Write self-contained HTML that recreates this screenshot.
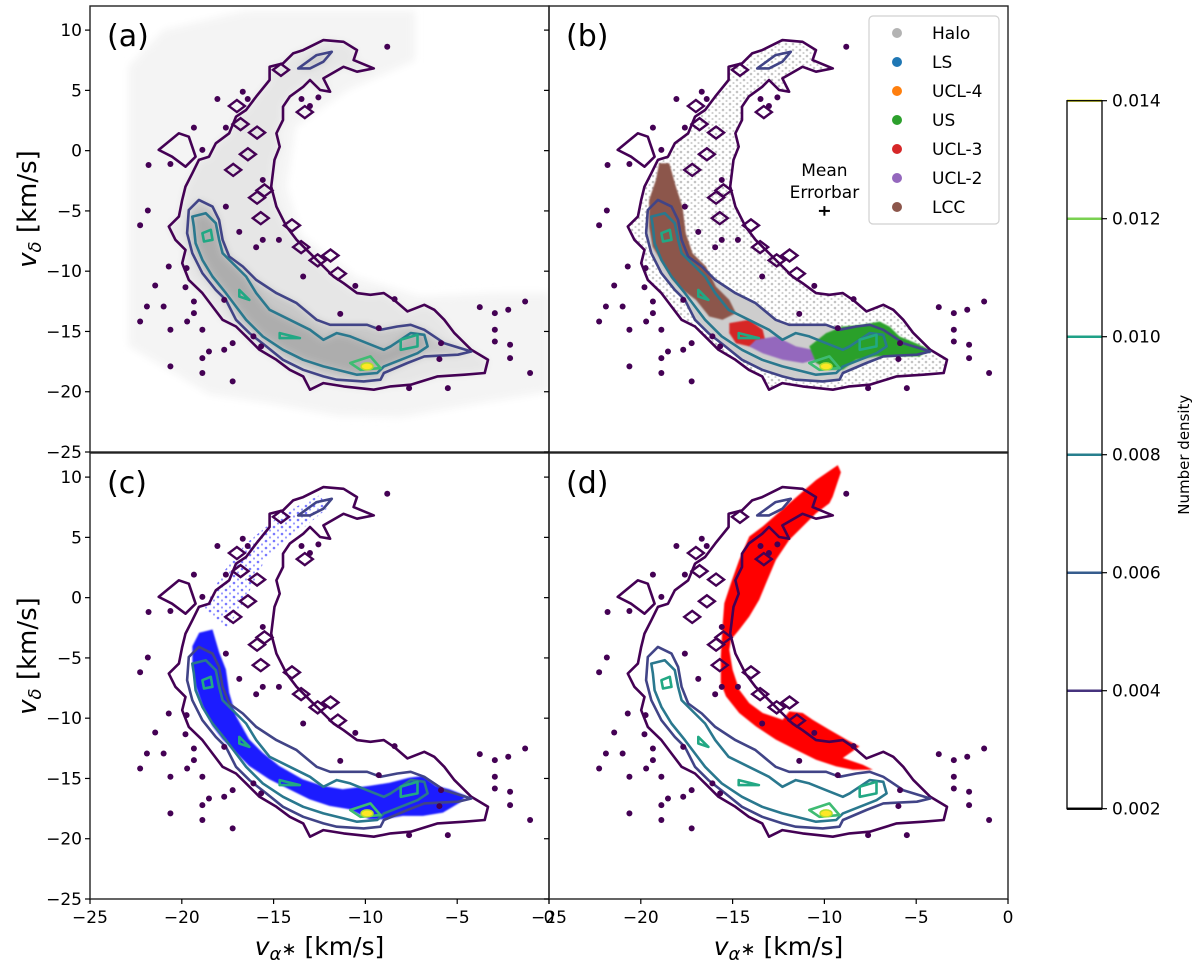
<!DOCTYPE html>
<html><head><meta charset="utf-8"><style>
body{margin:0;background:#fff;}
svg text{font-family:"DejaVu Sans","Liberation Sans",sans-serif;}
</style></head><body>
<svg id="fig" width="1200" height="965" viewBox="0 0 1200 965" xmlns="http://www.w3.org/2000/svg">
<defs>
<filter id="blur" x="-10%" y="-10%" width="120%" height="120%"><feGaussianBlur stdDeviation="4"/></filter>
<filter id="blur2"><feGaussianBlur stdDeviation="0.8"/></filter>
<pattern id="halodots" width="7" height="6" patternUnits="userSpaceOnUse"><circle cx="2" cy="2" r="1.3" fill="#c4c4c4"/><circle cx="5.5" cy="5" r="1.1" fill="#d0d0d0"/></pattern>
<pattern id="bluedots" width="8" height="7" patternUnits="userSpaceOnUse"><circle cx="2" cy="2" r="1.3" fill="#7a7aff"/><circle cx="6" cy="5.5" r="1.1" fill="#9a9aff"/></pattern>
</defs>
<g id="root"></g>
</svg>
<script>
// ---- data (velocities in km/s) ----
const xTicks = [-25, -20, -15, -10, -5, 0];
const yTicks = [10, 5, 0, -5, -10, -15, -20, -25];
const cbTicks = [0.002, 0.004, 0.006, 0.008, 0.010, 0.012, 0.014];
const cbLevelColors = ['#1a1a1a', '#46337e', '#365c8d', '#277f8e', '#1fa187', '#7ad151', '#e8e84a'];
const contourOuter = [[-13.39,8.34],[-12.29,9.17],[-11.19,9.03],[-10.46,8.34],[-10.64,7.51],[-9.54,6.82],[-10.46,6.55],[-11.19,6.96],[-12.29,5.99],[-11.92,4.89],[-12.47,5.03],[-13.02,5.86],[-13.39,5.30],[-14.12,4.48],[-14.49,3.65],[-14.49,2.54],[-14.85,1.44],[-14.67,0.33],[-14.95,-0.77],[-15.13,-2.98],[-14.85,-4.64],[-14.30,-6.30],[-13.75,-7.40],[-13.02,-8.51],[-12.29,-9.61],[-11.74,-10.44],[-11.19,-11.0],[-10.46,-11.82],[-9.73,-11.96],[-9.0,-11.82],[-8.44,-12.38],[-7.71,-13.34],[-6.79,-12.79],[-6.25,-13.2],[-5.70,-14.03],[-5.15,-15.14],[-4.23,-16.52],[-3.32,-17.35],[-3.5,-18.45],[-4.60,-18.59],[-6.06,-18.73],[-7.53,-19.42],[-8.63,-19.56],[-9.54,-19.83],[-11.19,-19.56],[-12.29,-19.28],[-13.02,-19.83],[-13.39,-18.73],[-14.12,-18.18],[-14.85,-17.35],[-15.77,-16.52],[-16.50,-15.41],[-17.05,-14.59],[-17.78,-14.03],[-18.33,-12.93],[-18.88,-11.82],[-19.62,-10.72],[-19.98,-9.34],[-19.80,-8.23],[-20.35,-7.40],[-20.71,-6.30],[-20.16,-5.47],[-19.98,-4.09],[-19.80,-2.98],[-19.43,-1.88],[-19.07,-0.77],[-18.52,-0.50],[-18.15,0.61],[-17.42,1.44],[-17.05,2.82],[-16.50,3.37],[-15.95,4.48],[-15.22,5.86],[-15.22,6.96],[-14.49,7.24],[-13.94,8.07]];
const contourOuterLeft = [[-21.26,0.06],[-20.16,1.44],[-19.62,1.16],[-19.25,-0.50],[-19.80,-1.33],[-20.53,-0.50]];
const contourMid = [[-19.62,-4.92],[-19.07,-4.09],[-18.33,-4.64],[-17.97,-5.75],[-17.78,-7.40],[-17.42,-8.78],[-16.68,-9.61],[-15.95,-10.72],[-14.85,-11.82],[-13.75,-12.65],[-12.66,-14.03],[-11.92,-14.45],[-11.19,-14.45],[-9.91,-14.45],[-9.18,-14.86],[-8.26,-14.59],[-7.53,-14.45],[-6.79,-14.86],[-5.70,-15.97],[-4.23,-16.66],[-4.96,-16.93],[-6.79,-17.07],[-7.71,-17.62],[-8.99,-18.45],[-9.18,-19.0],[-10.09,-19.14],[-11.56,-19.0],[-12.29,-18.73],[-13.39,-18.18],[-14.49,-17.35],[-15.40,-16.24],[-16.32,-15.14],[-17.05,-14.03],[-17.60,-12.38],[-18.15,-11.55],[-18.88,-10.17],[-19.43,-8.51],[-19.71,-6.85]];
const contourMidTop = [[-13.66,6.82],[-12.66,7.93],[-11.83,8.20],[-12.29,7.38],[-13.02,6.82]];
const contourInner = [[-19.43,-5.47],[-18.70,-5.19],[-18.15,-6.02],[-17.97,-7.40],[-17.78,-8.51],[-17.05,-9.61],[-16.50,-10.44],[-15.95,-11.82],[-15.22,-13.20],[-14.12,-14.03],[-13.02,-14.86],[-12.29,-15.69],[-11.56,-15.14],[-10.82,-15.41],[-9.91,-15.97],[-9.0,-16.52],[-8.63,-16.24],[-7.53,-15.14],[-6.79,-15.28],[-6.61,-16.24],[-7.16,-16.80],[-8.99,-17.90],[-9.36,-18.45],[-10.46,-18.59],[-11.19,-18.31],[-12.29,-17.90],[-13.39,-17.35],[-14.49,-16.52],[-15.59,-15.41],[-16.50,-14.03],[-17.05,-12.93],[-17.60,-11.82],[-18.33,-10.44],[-18.88,-9.06],[-19.25,-7.68],[-19.34,-6.30]];
const contourPeaks1 = [[-18.88,-6.85],[-18.42,-6.57],[-18.33,-7.40],[-18.79,-7.54]];
const contourPeaks2 = [[-16.87,-11.55],[-16.32,-12.38],[-16.87,-12.10]];
const contourPeaks3 = [[-14.67,-15.14],[-13.57,-15.55],[-14.67,-15.55]];
const contourPeaks4 = [[-10.82,-17.62],[-9.73,-17.07],[-9.18,-18.04],[-10.27,-18.18]];
const contourPeaks5 = [[-8.08,-15.69],[-7.16,-15.28],[-7.16,-16.24],[-8.08,-16.52]];
const peakCenter = [-9.91, -17.9];
const islands = [[-8.81,8.62],[-16.68,4.89],[-18.06,4.28],[-16.41,4.28],[-13.48,4.28],[-13.02,3.70],[-12.56,4.42],[-19.34,1.91],[-17.60,1.91],[-21.81,-1.19],[-20.62,-1.11],[-18.88,0.06],[-15.59,-2.43],[-17.60,-4.64],[-21.85,-4.97],[-22.27,-6.19],[-16.87,-6.74],[-15.59,-7.40],[-15.95,-8.01],[-14.71,-7.40],[-20.71,-9.61],[-19.74,-9.75],[-21.45,-11.19],[-19.80,-11.33],[-19.34,-12.51],[-21.90,-12.93],[-20.99,-12.93],[-22.27,-14.17],[-19.71,-14.17],[-20.62,-14.86],[-18.88,-14.86],[-19.34,-13.48],[-17.69,-12.38],[-16.10,-15.41],[-17.23,-15.97],[-17.69,-16.52],[-18.52,-16.66],[-18.88,-17.21],[-20.62,-17.90],[-18.88,-18.45],[-17.23,-19.14],[-15.68,-16.24],[-13.39,-10.44],[-10.55,-11.22],[-8.41,-12.32],[-11.37,-13.54],[-9.27,-14.72],[-5.88,-15.97],[-5.97,-17.29],[-3.77,-12.98],[-2.95,-13.48],[-2.22,-13.20],[-1.30,-12.51],[-2.95,-14.86],[-2.95,-15.83],[-2.12,-16.10],[-2.12,-17.21],[-1.03,-18.45],[-7.62,-19.70],[-5.51,-19.70]];
const holes = [[-16.4,-0.3],[-15.9,1.5],[-17.2,-1.6],[-15.5,-3.3],[-15.7,-5.6],[-14.0,-6.2],[-13.5,-8.0],[-12.6,-9.1],[-11.9,-8.7],[-15.9,-3.9],[-14.6,6.7],[-17.0,3.7],[-11.5,-10.2],[-13.3,3.2],[-16.8,2.2]];
const histExtent = [[-22.9,7],[-21,10],[-16.5,11.6],[-7.3,11.6],[-7.3,7.5],[-11,5],[-13.8,2],[-14.3,-3],[-13.5,-7],[-10.5,-10.5],[-7,-12.1],[-3,-11.8],[0,-11.8],[0,-20],[-4,-21],[-8,-22.1],[-11.5,-22],[-15,-21],[-18.5,-20.2],[-22.9,-16.2]];
const lccRegion = [[-19.0,-1.05],[-18.45,-1.05],[-18.09,-2.98],[-17.73,-4.64],[-17.55,-6.85],[-17.18,-8.51],[-16.45,-9.61],[-15.91,-11.27],[-15.18,-12.38],[-14.82,-13.48],[-15.55,-14.03],[-16.27,-13.76],[-17.0,-12.38],[-17.73,-11.55],[-18.27,-10.72],[-18.82,-9.34],[-19.36,-7.96],[-19.55,-6.30],[-19.55,-4.09],[-19.18,-2.43]];
const ucl3Region = [[-15.18,-14.31],[-14.09,-14.03],[-13.36,-14.86],[-13.18,-15.97],[-14.09,-16.24],[-14.82,-15.97],[-15.18,-15.14]];
const ucl2Region = [[-13.73,-15.69],[-12.64,-15.41],[-11.55,-16.24],[-10.64,-16.52],[-10.45,-17.35],[-11.18,-17.62],[-12.27,-17.35],[-13.36,-16.80],[-14.09,-16.24]];
const usRegion = [[-10.82,-16.24],[-9.91,-15.14],[-9.0,-14.59],[-7.91,-14.45],[-7.0,-14.17],[-6.45,-14.59],[-5.91,-15.41],[-5.0,-15.97],[-4.27,-16.52],[-4.82,-17.07],[-6.09,-17.07],[-7.18,-17.07],[-8.27,-17.35],[-9.0,-18.18],[-9.73,-18.18],[-10.45,-17.62]];
const blueDense = [[-19.05,-2.92],[-18.33,-2.64],[-17.96,-4.57],[-17.60,-5.96],[-17.42,-7.89],[-17.05,-9.82],[-16.33,-11.76],[-15.60,-12.86],[-14.69,-13.97],[-13.42,-15.07],[-12.33,-15.62],[-11.24,-15.90],[-9.78,-15.62],[-8.69,-15.35],[-7.60,-14.93],[-6.87,-14.80],[-6.15,-15.62],[-5.42,-15.90],[-4.51,-16.45],[-4.87,-17.01],[-5.78,-17.83],[-6.87,-18.11],[-7.96,-18.11],[-9.05,-18.39],[-9.78,-18.39],[-10.87,-17.56],[-11.96,-17.28],[-13.05,-16.73],[-14.15,-15.90],[-15.24,-15.07],[-16.33,-13.97],[-17.05,-12.86],[-17.78,-11.76],[-18.33,-10.65],[-18.87,-8.99],[-19.24,-7.34],[-19.42,-5.68],[-19.42,-4.02]];
const blueSparse = [[-18.8,-1],[-17.8,2],[-16.5,4.5],[-14.5,7],[-12.5,8.5],[-12,7.5],[-14,5],[-15.5,3],[-16.5,0],[-17.5,-2.5]];
const redModel = [[-9.27,11.0],[-10.45,9.76],[-11.91,7.83],[-13.36,5.90],[-14.09,5.07],[-14.64,3.13],[-15.09,1.20],[-15.45,-0.46],[-15.55,-2.39],[-15.64,-4.88],[-15.64,-7.09],[-15.36,-8.19],[-14.64,-9.57],[-13.73,-10.68],[-12.64,-11.78],[-11.55,-12.61],[-10.45,-13.44],[-9.36,-14.0],[-8.45,-14.27],[-7.36,-14.27],[-7.91,-13.86],[-9.0,-13.30],[-8.09,-12.34],[-8.64,-11.92],[-9.73,-10.96],[-10.64,-10.13],[-11.18,-9.57],[-11.91,-9.44],[-12.27,-10.13],[-13.36,-9.57],[-14.09,-8.75],[-14.64,-7.64],[-15.0,-5.98],[-15.18,-4.33],[-15.09,-3.50],[-14.64,-2.67],[-14.09,-1.56],[-13.55,-0.18],[-13.18,1.20],[-12.64,3.13],[-11.91,4.79],[-11.18,5.90],[-10.45,7.0],[-9.73,7.83],[-9.55,8.38],[-9.1,10.4]];
const legendLabels = ['Halo', 'LS', 'UCL-4', 'US', 'UCL-3', 'UCL-2', 'LCC'];
const legendColors = ['#b3b3b3', '#1f77b4', '#ff7f0e', '#2ca02c', '#d62728', '#9467bd', '#8c564b'];
const errorbarPos = [-10.0, -5.0];
const errorbarSize = [0.3, 0.4];

// ---- layout ----
const NS = 'http://www.w3.org/2000/svg';
const root = document.getElementById('root');
const PW = 459, PH = 446;
const panels = [
  {id:'a', x0:90, y0:6, left:true, bottom:false},
  {id:'b', x0:549, y0:6, left:false, bottom:false},
  {id:'c', x0:90, y0:453, left:true, bottom:true},
  {id:'d', x0:549, y0:453, left:false, bottom:true}
];
function mk(tag, attrs, parent) {
  const e = document.createElementNS(NS, tag);
  for (const k in attrs) e.setAttribute(k, attrs[k]);
  (parent || root).appendChild(e);
  return e;
}
function axes(p) {
  return {
    sx: v => p.x0 + (v + 25) * PW / 25,
    sy: v => p.y0 + (12 - v) * PH / 37
  };
}
function pts(arr, ax) { return arr.map(d => ax.sx(d[0]).toFixed(1) + ',' + ax.sy(d[1]).toFixed(1)).join(' '); }

function drawContours(g, ax) {
  const specs = [
    [contourOuter, '#440154', 'contour-level-1'], [contourOuterLeft, '#440154', 'contour-level-1-island'],
    [contourMid, '#414487', 'contour-level-2'], [contourMidTop, '#414487', 'contour-level-2-top'],
    [contourInner, '#2a788e', 'contour-level-3'],
    [contourPeaks1, '#22a884', 'contour-level-4'], [contourPeaks2, '#22a884', 'contour-level-4'],
    [contourPeaks3, '#22a884', 'contour-level-4'], [contourPeaks4, '#3fbc73', 'contour-level-4'],
    [contourPeaks5, '#22a884', 'contour-level-4']
  ];
  specs.forEach(s => {
    const e = mk('polygon', {points: pts(s[0], ax), fill:'none', stroke:s[1], 'stroke-width':2.6, 'stroke-linejoin':'round'}, g);
    
    
  });
  const pk = mk('ellipse', {cx: ax.sx(peakCenter[0]), cy: ax.sy(peakCenter[1]), rx:6, ry:3.5, fill:'#fde725', stroke:'#b5de2b', 'stroke-width':1.5}, g);
  
  
  islands.forEach(d => {
    const e = mk('ellipse', {cx: ax.sx(d[0]), cy: ax.sy(d[1]), rx:3, ry:3, fill:'#440154'}, g);
    
    
  });
  holes.forEach(d => {
    const x = ax.sx(d[0]), y = ax.sy(d[1]);
    const e = mk('polygon', {points: `${x-8},${y} ${x},${y-6} ${x+8},${y} ${x},${y+6}`, fill:'none', stroke:'#440154', 'stroke-width':2.4}, g);
    
    
  });
}

panels.forEach(p => {
  const ax = axes(p);
  const g = mk('g', {});
  
  
  const clipId = 'clip' + p.id;
  const cp = mk('clipPath', {id: clipId}, g);
  mk('rect', {x:p.x0, y:p.y0, width:PW, height:PH}, cp);
  const inner = mk('g', {'clip-path': `url(#${clipId})`}, g);

  if (p.id === 'a') {
    const hg = mk('g', {filter:'url(#blur)'}, inner);
    
    
    mk('polygon', {points: pts(histExtent, ax), fill:'#f4f4f4'}, hg);
    mk('polygon', {points: pts(contourOuter, ax), fill:'#e6e6e6'}, hg);
    mk('polygon', {points: pts(contourMid, ax), fill:'#c8c8c8'}, hg);
    mk('polygon', {points: pts(contourMidTop, ax), fill:'#c8c8c8'}, hg);
    mk('polygon', {points: pts(contourInner, ax), fill:'#adadad'}, hg);
  }
  if (p.id === 'b') {
    const sg = mk('g', {}, inner);
    
    
    const h1 = mk('polygon', {points: pts(contourOuter, ax), fill:'url(#halodots)'}, sg);
    
    
    const h2 = mk('polygon', {points: pts(contourMid, ax), fill:'#cdcdcd', filter:'url(#blur2)'}, sg);
    
    
    [[lccRegion, legendColors[6], 'lcc-points'], [ucl3Region, legendColors[4], 'ucl3-points'],
     [ucl2Region, legendColors[5], 'ucl2-points'], [usRegion, legendColors[3], 'us-points']].forEach(s => {
      const e = mk('polygon', {points: pts(s[0], ax), fill:s[1], filter:'url(#blur2)'}, sg);
      
      
    });
  }
  if (p.id === 'c') {
    const s1 = mk('polygon', {points: pts(blueSparse, ax), fill:'url(#bluedots)'}, inner);
    
    
    const s2 = mk('polygon', {points: pts(blueDense, ax), fill:'#1a1aff', filter:'url(#blur2)'}, inner);
    
    
  }
  if (p.id === 'd') {
    const r = mk('polygon', {points: pts(redModel, ax), fill:'#ff0000', filter:'url(#blur2)'}, inner);
    
    
  }
  drawContours(inner, ax);

  const fr = mk('rect', {x:p.x0, y:p.y0, width:PW, height:PH, fill:'none', stroke:'#222', 'stroke-width':1.4}, g);
  
  
  const lt = mk('text', {x:p.x0 + 17, y:p.y0 + 40, 'font-size':30, fill:'#000'}, g);
  lt.textContent = '(' + p.id + ')';
  
  

  yTicks.forEach(v => {
    const y = ax.sy(v);
    mk('line', {x1:p.x0 - 5, x2:p.x0, y1:y, y2:y, stroke:'#000', 'stroke-width':1.2}, g);
    if (p.left) {
      const t = mk('text', {x:p.x0 - 8, y:y + 6, 'font-size':17, 'text-anchor':'end'}, g);
      t.textContent = v < 0 ? '\u2212' + Math.abs(v) : String(v);
      
      
    }
  });
  if (p.bottom) {
    xTicks.forEach(v => {
      const x = ax.sx(v);
      mk('line', {x1:x, x2:x, y1:p.y0 + PH, y2:p.y0 + PH + 5, stroke:'#000', 'stroke-width':1.2}, g);
      const t = mk('text', {x:x, y:p.y0 + PH + 24, 'font-size':17, 'text-anchor':'middle'}, g);
      t.textContent = v < 0 ? '\u2212' + Math.abs(v) : String(v);
      
      
    });
    const xl = mk('text', {x:p.x0 + PW / 2, y:955, 'font-size':25, 'text-anchor':'middle'}, g);
    xl.innerHTML = '<tspan font-style="italic">v</tspan><tspan font-size="18" dy="5" font-style="italic">α</tspan><tspan font-size="18" dy="-5">∗</tspan> [km/s]';
    
    
  }
  if (p.left) {
    const cy = p.y0 + PH / 2 - 20;
    const yl = mk('text', {x:0, y:0, 'font-size':26, 'text-anchor':'middle', transform:`translate(36,${cy}) rotate(-90)`}, g);
    yl.innerHTML = '<tspan font-style="italic">v</tspan><tspan font-size="18" dy="5" font-style="italic">δ</tspan><tspan dy="-5"> [km/s]</tspan>';
    
    
  }
  if (p.id === 'b') {
    const ex = ax.sx(errorbarPos[0]), ey = ax.sy(errorbarPos[1]);
    const eg = mk('g', {}, g);
    
    
    mk('line', {x1:ex - errorbarSize[0] * PW / 25, x2:ex + errorbarSize[0] * PW / 25, y1:ey, y2:ey, stroke:'#000', 'stroke-width':2}, eg);
    mk('line', {x1:ex, x2:ex, y1:ey - errorbarSize[1] * PH / 37, y2:ey + errorbarSize[1] * PH / 37, stroke:'#000', 'stroke-width':2}, eg);
    const t1 = mk('text', {x:ex, y:ey - 35, 'font-size':17, 'text-anchor':'middle'}, eg); t1.textContent = 'Mean';
    const t2 = mk('text', {x:ex, y:ey - 13, 'font-size':17, 'text-anchor':'middle'}, eg); t2.textContent = 'Errorbar';
    const lg = mk('g', {}, g);
    
    
    mk('rect', {x:869, y:16, width:130, height:208, rx:4, fill:'#fff', 'fill-opacity':0.85, stroke:'#d0d0d0', 'stroke-width':1.2}, lg);
    legendLabels.forEach((lab, i) => {
      const y = 33 + i * 29;
      const en = mk('g', {}, lg);
      
      
      mk('circle', {cx:897, cy:y, r:5, fill:legendColors[i]}, en);
      const t = mk('text', {x:932, y:y + 6, 'font-size':17}, en);
      t.textContent = lab;
    });
  }
  root.appendChild(g);
});

// ---- colorbar ----
const cbTop = 100.7, cbBot = 808.7, cbX = 1067, cbW = 35;
const cy = v => cbBot - (v - 0.002) / 0.012 * (cbBot - cbTop);
const cb = mk('g', {});


cbTicks.forEach((v, i) => {
  const y = cy(v);
  mk('line', {x1:cbX, x2:cbX + cbW, y1:y, y2:y, stroke:cbLevelColors[i], 'stroke-width':2.5}, cb);
  mk('line', {x1:cbX + cbW, x2:cbX + cbW + 5, y1:y, y2:y, stroke:'#000', 'stroke-width':1.2}, cb);
  const t = mk('text', {x:cbX + cbW + 10, y:y + 6, 'font-size':17}, cb);
  t.textContent = v.toFixed(3);
  
  
});
mk('rect', {x:cbX, y:cbTop, width:cbW, height:cbBot - cbTop, fill:'none', stroke:'#000', 'stroke-width':1.3}, cb);
const cbl = mk('text', {x:0, y:0, 'font-size':15, 'text-anchor':'middle', transform:`translate(1189,${(cbTop + cbBot) / 2}) rotate(-90)`}, cb);
cbl.textContent = 'Number density';


</script>
</body></html>
